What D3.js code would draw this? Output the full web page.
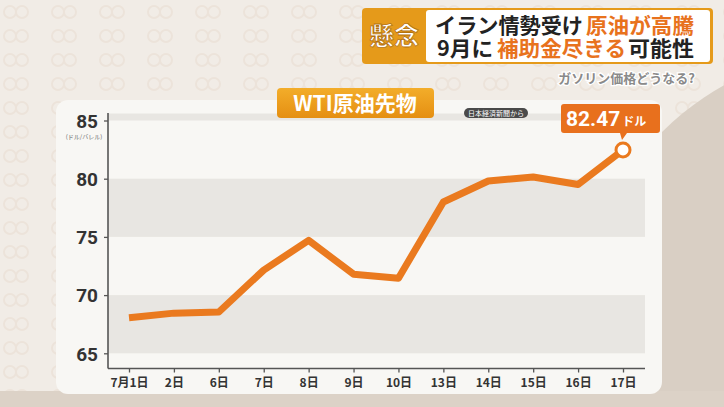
<!DOCTYPE html>
<html>
<head>
<meta charset="utf-8">
<script src="https://cdn.jsdelivr.net/npm/d3@7"></script>
<style>
  html, body { margin: 0; padding: 0; background: #efe9e2; }
  svg { display: block; }
</style>
</head>
<body>
<div id="chart"></div>
<script>
// data
var days = ["7月1日", "2日", "6日", "7日", "8日", "9日", "10日", "13日", "14日", "15日", "16日", "17日"];
var prices = [68.05, 68.45, 68.55, 72.15, 74.7, 71.8, 71.45, 78.0, 79.8, 80.15, 79.5, 82.47];
var yTicks = [65, 70, 75, 80, 85];
var bands = [[65, 70], [75, 80], [85, 85.6]];

const width = 724;
const height = 407;
const orange = "#ea7a1f";
const jp = "'Noto Sans CJK JP', 'Noto Sans', sans-serif";

var svg = d3.select("#chart")
    .append("svg")
    .attr("width", width)
    .attr("height", height);

var defs = svg.append("defs");

// faint ring pattern of the backdrop
var pat = defs.append("pattern")
    .attr("id", "rings")
    .attr("width", 48)
    .attr("height", 24)
    .attr("patternUnits", "userSpaceOnUse");
pat.append("circle").attr("cx", 10).attr("cy", 12).attr("r", 6)
    .attr("fill", "none").attr("stroke", "#e9ddd2").attr("stroke-width", 2);
pat.append("circle").attr("cx", 22).attr("cy", 12).attr("r", 6)
    .attr("fill", "none").attr("stroke", "#e9ddd2").attr("stroke-width", 2);

var grad = defs.append("linearGradient")
    .attr("id", "tag").attr("x1", 0).attr("y1", 0).attr("x2", 0).attr("y2", 1);
grad.append("stop").attr("offset", 0).attr("stop-color", "#f3ad2a");
grad.append("stop").attr("offset", 1).attr("stop-color", "#e58f12");

svg.append("rect").attr("width", width).attr("height", height).attr("fill", "#f1ece6");
svg.append("rect").attr("width", width).attr("height", height).attr("fill", "url(#rings)").attr("opacity", 0.6);
// darker swoosh at the right and bottom
svg.append("circle").attr("cx", 860).attr("cy", 330).attr("r", 280).attr("fill", "#d9cfc4");
svg.append("rect").attr("x", 0).attr("y", 391).attr("width", width).attr("height", 16).attr("fill", "#dcd2c7");

// chart panel
svg.append("rect")
    .attr("x", 56).attr("y", 100)
    .attr("width", 606).attr("height", 294)
    .attr("rx", 12)
    .attr("fill", "#f8f7f4");

var x = d3.scalePoint()
    .domain(days)
    .range([129, 623]);

var y = d3.scaleLinear()
    .domain([65, 85])
    .range([353.3, 120.5]);

// grey bands
svg.selectAll(".band")
    .data(bands)
    .enter()
    .append("rect")
    .attr("class", "band")
    .attr("x", 108)
    .attr("width", 537)
    .attr("y", d => y(d[1]))
    .attr("height", d => y(d[0]) - y(d[1]))
    .attr("fill", "#e8e6e2");

// axes
var yAxis = svg.append("g")
    .attr("transform", "translate(108,0)")
    .call(d3.axisLeft(y).tickValues(yTicks).tickSize(4).tickPadding(6));
yAxis.select(".domain").remove();
yAxis.append("line")
    .attr("x1", 0).attr("x2", 0).attr("y1", 113).attr("y2", 368.5)
    .attr("stroke", "#555").attr("stroke-width", 1.6);
yAxis.selectAll(".tick line").attr("stroke", "#555").attr("stroke-width", 1.3);
yAxis.selectAll(".tick text")
    .attr("fill", "#333")
    .style("font-family", "Roboto, 'DejaVu Sans', sans-serif")
    .style("font-weight", "bold")
    .style("font-size", "19px")
    .attr("dy", "0.36em");

svg.append("text")
    .attr("x", 84).attr("y", 139)
    .attr("text-anchor", "middle")
    .style("font-family", jp)
    .style("font-size", "6px")
    .attr("fill", "#666")
    .text("(ドル/バレル)");

var xAxis = svg.append("g")
    .attr("transform", "translate(0,368.5)")
    .call(d3.axisBottom(x).tickSize(4).tickPadding(6));
xAxis.select(".domain").remove();
xAxis.append("line")
    .attr("x1", 108).attr("x2", 645).attr("y1", 0).attr("y2", 0)
    .attr("stroke", "#555").attr("stroke-width", 1.6);
xAxis.selectAll(".tick line").attr("stroke", "#555").attr("stroke-width", 1.3);
xAxis.selectAll(".tick text")
    .attr("fill", "#333")
    .style("font-family", jp)
    .style("font-weight", "bold")
    .style("font-size", "12px");

// the price line
var data = [];
for (var i = 0; i < days.length; i++) {
    data.push({t: days[i], d: prices[i]});
}

svg.append("path")
    .datum(data)
    .attr("fill", "none")
    .attr("stroke", orange)
    .attr("stroke-width", 7)
    .attr("stroke-linejoin", "round")
    .attr("d", d3.line()
        .x(d => x(d.t))
        .y(d => y(d.d))
    );

var last = data[data.length - 1];
svg.append("circle")
    .attr("cx", x(last.t))
    .attr("cy", y(last.d))
    .attr("r", 7)
    .attr("fill", "#fff")
    .attr("stroke", orange)
    .attr("stroke-width", 3);

// value callout
var cx = x(last.t);
svg.append("path")
    .attr("d", "M" + (cx - 62) + ",104 h96 a3,3 0 0 1 3,3 v23 a3,3 0 0 1 -3,3 h-30 l-5,7 l-2,-7 h-56 a3,3 0 0 1 -3,-3 v-23 a3,3 0 0 1 3,-3 z")
    .attr("fill", "#e8701d");
var callout = svg.append("text")
    .attr("x", cx - 57).attr("y", 126)
    .attr("fill", "#fff")
    .style("font-family", "Roboto, 'DejaVu Sans', sans-serif")
    .style("font-weight", "bold");
callout.append("tspan").style("font-size", "21px").text(last.d.toFixed(2));
callout.append("tspan").style("font-size", "12px").style("font-family", jp).attr("dx", 2).text("ドル");

// source pill
svg.append("rect")
    .attr("x", 464).attr("y", 108).attr("width", 64).attr("height", 10).attr("rx", 5)
    .attr("fill", "#4a4a4a");
svg.append("text")
    .attr("x", 496).attr("y", 115.5)
    .attr("text-anchor", "middle")
    .attr("fill", "#fff")
    .style("font-family", jp)
    .style("font-size", "7px")
    .text("日本経済新聞から");

// chart title tag
svg.append("rect")
    .attr("x", 277).attr("y", 88).attr("width", 157).attr("height", 30).attr("rx", 4)
    .attr("fill", "url(#tag)");
svg.append("text")
    .attr("x", 355).attr("y", 111)
    .attr("text-anchor", "middle")
    .attr("fill", "#fff")
    .style("font-family", jp)
    .style("font-weight", "bold")
    .style("font-size", "21px")
    .text("WTI原油先物");

// headline block
svg.append("rect")
    .attr("x", 362).attr("y", 8).attr("width", 351).attr("height", 56).attr("rx", 4)
    .attr("fill", "#e59a1a");
svg.append("rect")
    .attr("x", 426).attr("y", 10).attr("width", 284).attr("height", 52).attr("rx", 3)
    .attr("fill", "#fff");
svg.append("text")
    .attr("x", 394).attr("y", 45)
    .attr("text-anchor", "middle")
    .attr("fill", "#fff")
    .attr("stroke", "#b4720e")
    .attr("stroke-width", 0.8)
    .style("font-family", jp)
    .style("font-weight", "bold")
    .style("font-size", "25px")
    .text("懸念");

// each piece: text, colour, left x, width
var headLines = [
    [["イラン情勢受け", "#222", 435, 148], ["原油が高騰", "#e8721d", 586, 108]],
    [["9月に", "#222", 437, 56], ["補助金尽きる", "#e8721d", 497, 129], ["可能性", "#222", 628, 66]]
];
headLines.forEach(function (parts, k) {
    parts.forEach(function (p) {
        svg.append("text")
            .attr("x", p[2]).attr("y", 33 + k * 23)
            .attr("textLength", p[3])
            .attr("lengthAdjust", "spacingAndGlyphs")
            .attr("fill", p[1])
            .style("font-family", jp)
            .style("font-weight", "bold")
            .style("font-size", "21px")
            .text(p[0]);
    });
});

svg.append("text")
    .attr("x", 695).attr("y", 83)
    .attr("text-anchor", "end")
    .attr("fill", "#8a8a8a")
    .attr("stroke", "#fff")
    .attr("stroke-width", 2.5)
    .attr("paint-order", "stroke")
    .style("font-family", jp)
    .style("font-weight", "bold")
    .style("font-size", "13px")
    .text("ガソリン価格どうなる?");
</script>
</body>
</html>
